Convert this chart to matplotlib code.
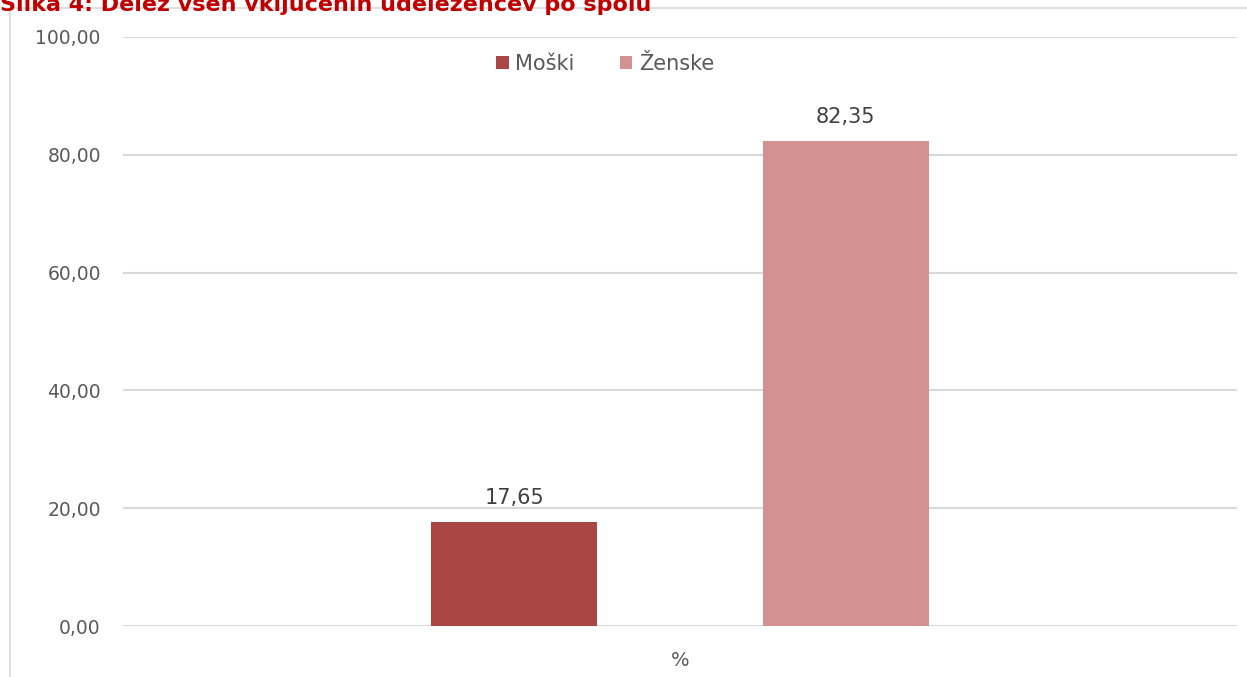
import matplotlib.pyplot as plt
from matplotlib.patches import Rectangle


##### Data

categories = ["Moški", "Ženske"]
values = [17.65, 82.35]
group_label = "%"
y_ticks = [0, 20, 40, 60, 80, 100]
title = "Slika 4: Delež vseh vključenih udeležencev po spolu"

colors = ["#A94745", "#D39191"]
text_color = "#595959"

W, H = 1247, 677


def fmt(v):
    return f"{v:.2f}".replace(".", ",")


fig = plt.figure(figsize=(W / 100, H / 100), dpi=100)

# outer chart frame (only left and top edge visible)
fig.patches.append(Rectangle((10 / W, -0.1), 1.2, (H - 8) / H + 0.1,
                             transform=fig.transFigure, fill=False,
                             edgecolor="#D9D9D9", linewidth=1.2))

# title, its top is clipped by the picture edge as in the source
fig.text(0, 1 - 11 / H, title, color="#C00000", fontsize=16, fontweight="bold",
         va="baseline", ha="left")

ax = fig.add_axes([123 / W, 1 - 626 / H, (1237 - 123) / W, (626 - 37) / H])

bar_w = 0.149
offsets = [-0.1486, 0.1486]
for name, v, c, off in zip(categories, values, colors, offsets):
    ax.bar(off, v, width=bar_w, color=c, label=name, zorder=3)
    ax.text(off, v + 2.3, fmt(v), ha="center", va="bottom",
            fontsize=15, color="#404040")

ax.set_xlim(-0.5, 0.5)
ax.set_ylim(0, 100)
ax.set_yticks(y_ticks)
ax.set_yticklabels([fmt(t) for t in y_ticks], fontsize=13.5, color=text_color)
ax.set_xticks([0])
ax.set_xticklabels([group_label], fontsize=14, color=text_color)
ax.tick_params(axis="y", length=0, pad=16)
ax.tick_params(axis="x", length=0, pad=18)

ax.grid(axis="y", color="#D9D9D9", linewidth=1.5, zorder=0)
ax.set_axisbelow(True)
for s in ax.spines.values():
    s.set_visible(False)

leg = fig.legend(*ax.get_legend_handles_labels(), loc="center",
                 bbox_to_anchor=(605 / W, 1 - 64 / H), ncol=2,
                 frameon=False, fontsize=15, handlelength=0.6, handleheight=0.6,
                 handletextpad=0.3, columnspacing=2.2, labelcolor=text_color)

fig.savefig("out.png", dpi=100)
